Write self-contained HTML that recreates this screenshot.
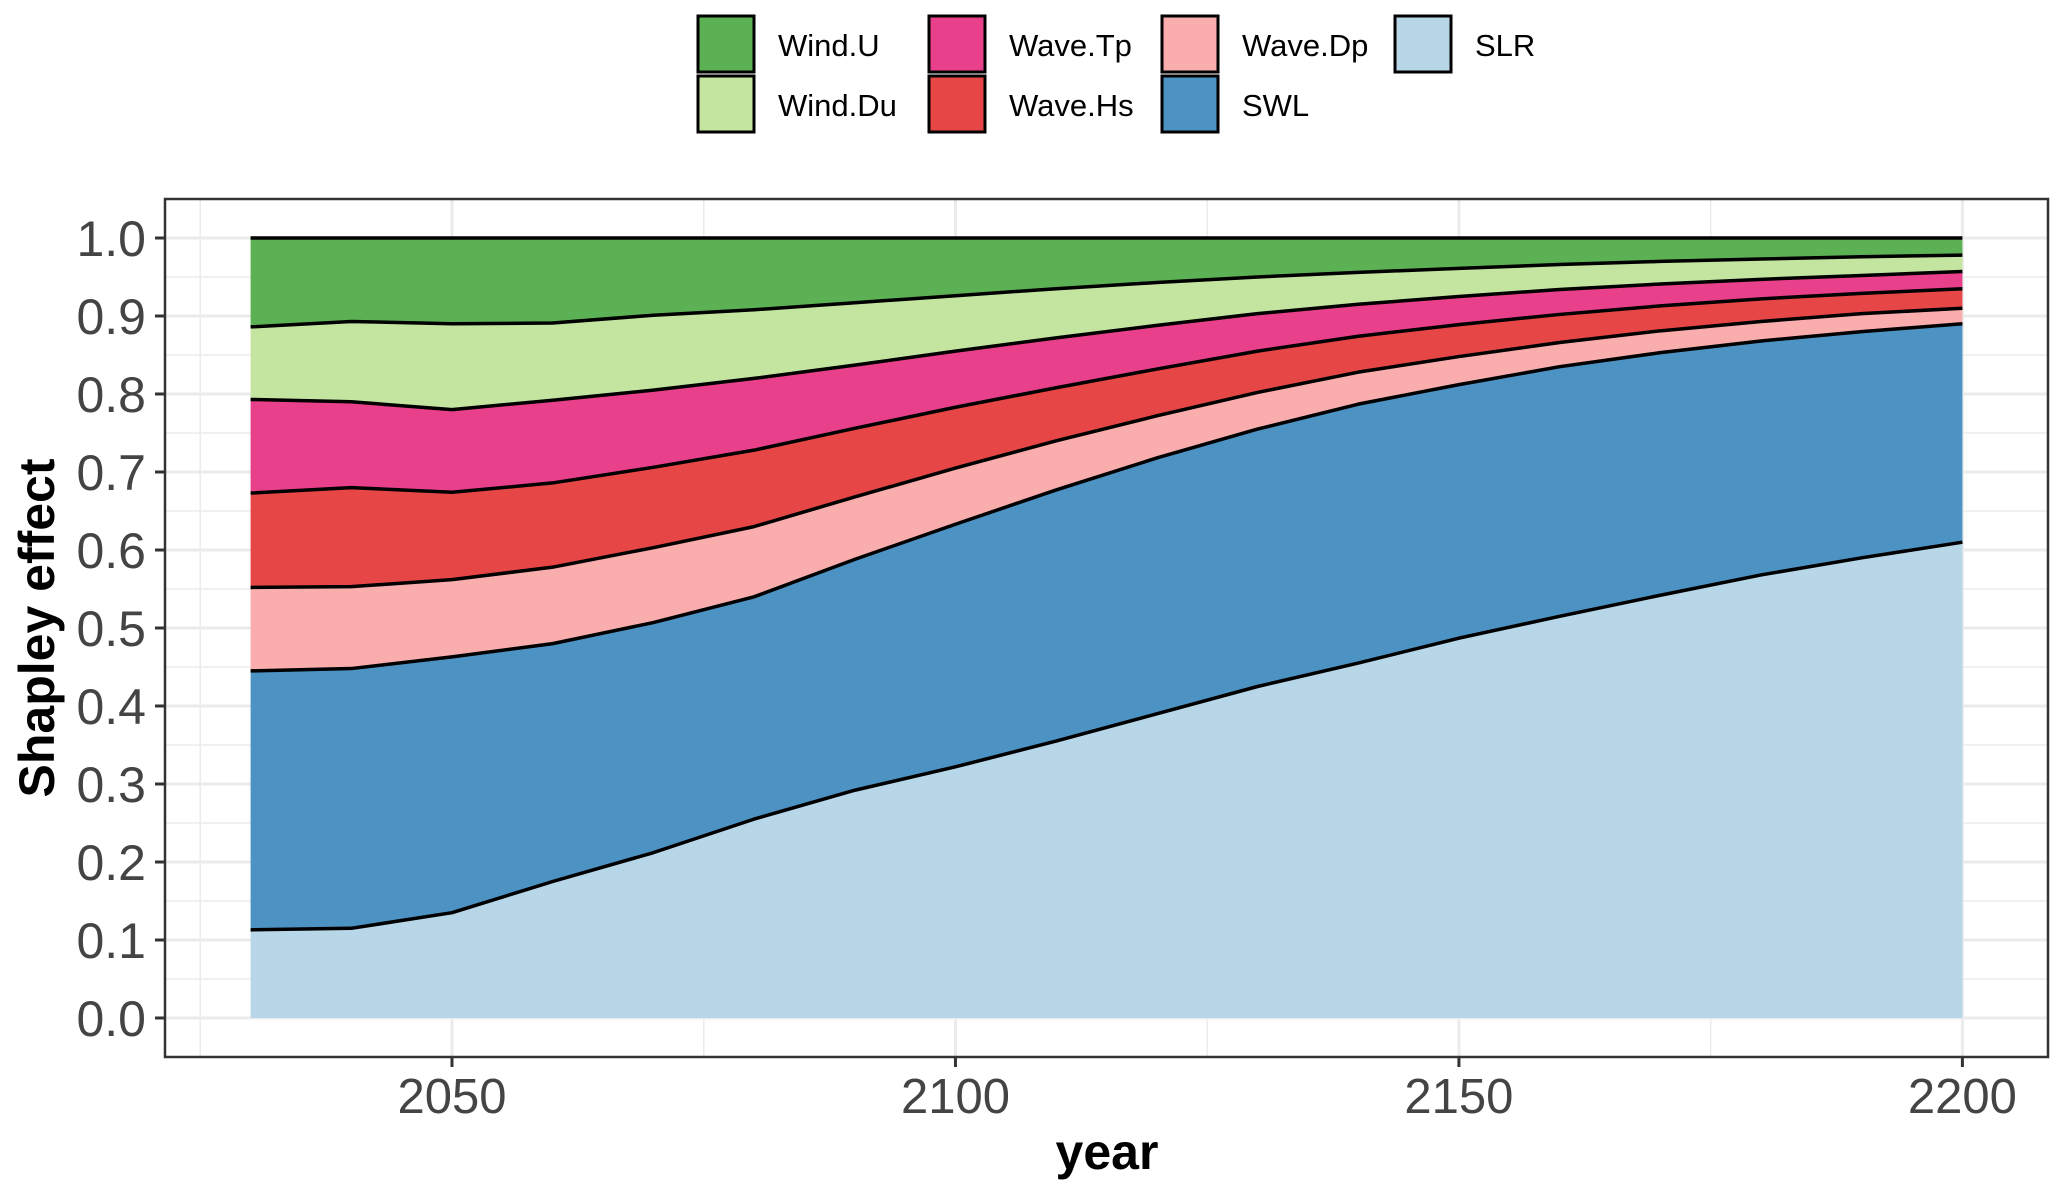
<!DOCTYPE html>
<html><head><meta charset="utf-8"><style>
body{margin:0;background:#fff;}
svg{display:block;font-family:"Liberation Sans",sans-serif;}
</style></head><body>
<svg id="chart" width="2067" height="1193" viewBox="0 0 2067 1193">
<g id="grid"></g>
<g id="areas"></g>
<rect x="165" y="199" width="1883" height="858" fill="none" stroke="#333" stroke-width="2.5"/>
<g id="axes"></g>
<text x="1107" y="1169" text-anchor="middle" font-size="50" font-weight="bold" fill="#000">year</text>
<text transform="translate(54,628) rotate(-90)" text-anchor="middle" font-size="50" font-weight="bold" fill="#000">Shapley effect</text>
<g id="legend"></g>
</svg>
<script>
const years=[2030,2040,2050,2060,2070,2080,2090,2100,2110,2120,2130,2140,2150,2160,2170,2180,2190,2200];
const slrTop=[0.113,0.115,0.135,0.175,0.212,0.255,0.292,0.322,0.355,0.39,0.425,0.455,0.487,0.515,0.542,0.568,0.59,0.61];
const swlTop=[0.445,0.448,0.463,0.48,0.507,0.54,0.588,0.633,0.677,0.718,0.755,0.787,0.812,0.835,0.853,0.868,0.88,0.89];
const waveDpTop=[0.552,0.553,0.562,0.578,0.603,0.63,0.668,0.705,0.74,0.772,0.802,0.828,0.848,0.866,0.881,0.893,0.903,0.91];
const waveHsTop=[0.673,0.68,0.674,0.686,0.706,0.728,0.756,0.783,0.808,0.832,0.855,0.874,0.889,0.902,0.913,0.922,0.929,0.935];
const waveTpTop=[0.793,0.79,0.78,0.792,0.805,0.82,0.837,0.855,0.872,0.888,0.903,0.915,0.925,0.934,0.941,0.947,0.952,0.957];
const windDuTop=[0.886,0.893,0.89,0.891,0.901,0.908,0.917,0.926,0.935,0.943,0.95,0.956,0.961,0.966,0.97,0.973,0.976,0.978];
const windUTop=[1,1,1,1,1,1,1,1,1,1,1,1,1,1,1,1,1,1];
const yTicks=["0.0","0.1","0.2","0.3","0.4","0.5","0.6","0.7","0.8","0.9","1.0"];
const xTicks=[2050,2100,2150,2200];

const NS="http://www.w3.org/2000/svg";
const X0=165,X1=2048,Y0=199,Y1=1057;
const xmin=2021.5,xmax=2208.5,ymin=-0.05,ymax=1.05;
const sx=v=>X0+(v-xmin)/(xmax-xmin)*(X1-X0);
const sy=v=>Y1-(v-ymin)/(ymax-ymin)*(Y1-Y0);
function mk(t,a,p){const e=document.createElementNS(NS,t);for(const k in a)e.setAttribute(k,a[k]);p.appendChild(e);return e;}

const grid=document.getElementById('grid');
for(let v=-0.05;v<=1.051;v+=0.05){const major=Math.abs(Math.round(v*10)-v*10)<1e-6;
 const l=mk('line',{x1:X0,x2:X1,y1:sy(v),y2:sy(v),stroke:'#ebebeb','stroke-width':major?3:1.5},grid);
 
 }
for(let v=2025;v<=2205;v+=25){const l=mk('line',{x1:sx(v),x2:sx(v),y1:Y0,y2:Y1,stroke:'#ebebeb','stroke-width':v%50===0?3:1.5},grid);
 
 }

const series=[
 {name:'SLR',top:slrTop,color:'#b7d6e8'},
 {name:'SWL',top:swlTop,color:'#4c92c3'},
 {name:'Wave.Dp',top:waveDpTop,color:'#f9adad'},
 {name:'Wave.Hs',top:waveHsTop,color:'#e74646'},
 {name:'Wave.Tp',top:waveTpTop,color:'#e8408a'},
 {name:'Wind.Du',top:windDuTop,color:'#c3e5a0'},
 {name:'Wind.U',top:windUTop,color:'#5cb155'}];
const areas=document.getElementById('areas');
let prev=years.map(()=>0);
series.forEach(s=>{
 const up=years.map((y,i)=>sx(y)+','+sy(s.top[i]));
 const dn=years.map((y,i)=>sx(y)+','+sy(prev[i])).reverse();
 const p=mk('polygon',{points:up.concat(dn).join(' '),fill:s.color},areas);
 
 
 prev=s.top;});
series.forEach(s=>{
 const l=mk('polyline',{points:years.map((y,i)=>sx(y)+','+sy(s.top[i])).join(' '),fill:'none',stroke:'#000','stroke-width':3.5,'stroke-linejoin':'round'},areas);
 
 });

const axes=document.getElementById('axes');
yTicks.forEach(t=>{const v=parseFloat(t),y=sy(v);
 const tk=mk('line',{x1:155,x2:165,y1:y,y2:y,stroke:'#333','stroke-width':3},axes);
 
 
 const tx=mk('text',{x:146,y:y+18,'text-anchor':'end','font-size':50,fill:'#444'},axes);tx.textContent=t;
 
 });
xTicks.forEach(t=>{const x=sx(t);
 const tk=mk('line',{x1:x,x2:x,y1:1057,y2:1067,stroke:'#333','stroke-width':3},axes);
 
 
 const tx=mk('text',{x:x,y:1113,'text-anchor':'middle','font-size':49,fill:'#444'},axes);tx.textContent=t;
 
 });

const legend=document.getElementById('legend');
const legOrder=[['Wind.U','#5cb155',0,0],['Wind.Du','#c3e5a0',0,1],['Wave.Tp','#e8408a',1,0],['Wave.Hs','#e74646',1,1],['Wave.Dp','#f9adad',2,0],['SWL','#4c92c3',2,1],['SLR','#b7d6e8',3,0]];
const colX=[698,929,1162,1395];
legOrder.forEach(([n,c,col,row])=>{
 const x=colX[col],y=16+row*60;
 const r=mk('rect',{x:x,y:y,width:56,height:56,fill:c,stroke:'#000','stroke-width':3},legend);
 
 
 const t=mk('text',{x:x+80,y:y+40,'font-size':31,fill:'#000'},legend);t.textContent=n;
 
 });
</script>
</body></html>
